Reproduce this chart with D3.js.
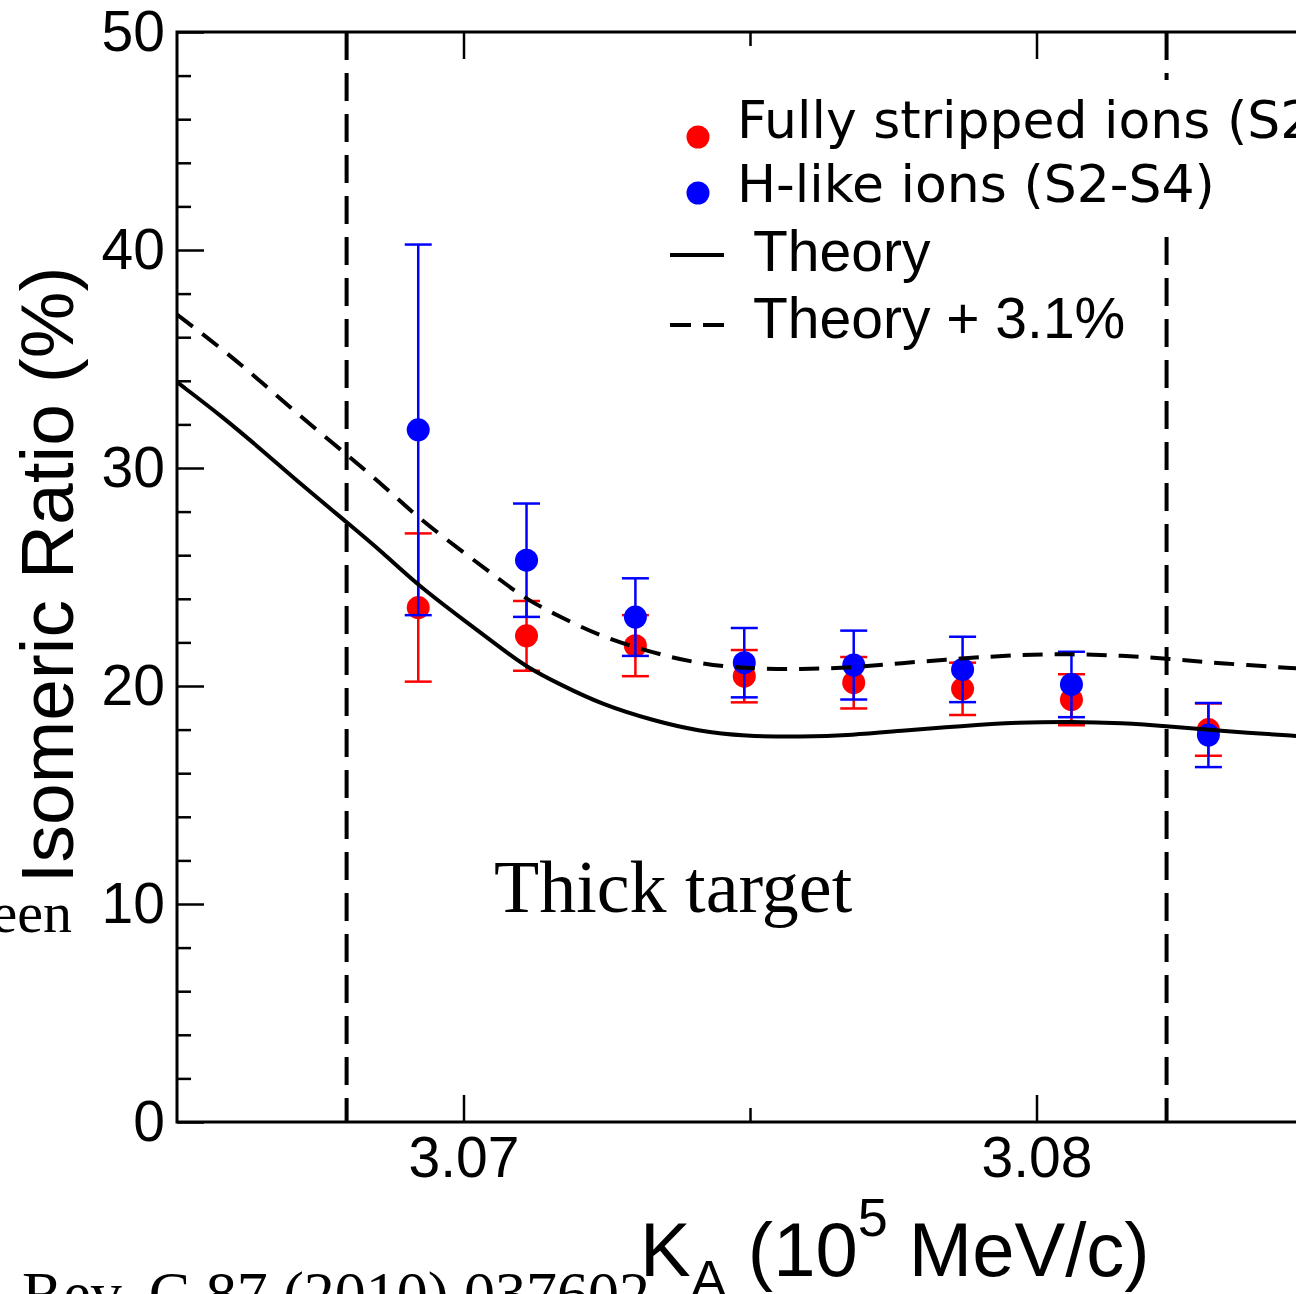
<!DOCTYPE html>
<html>
<head>
<meta charset="utf-8">
<script src="https://cdn.jsdelivr.net/npm/d3@7"></script>
<style>
  html, body { margin: 0; padding: 0; background: #fff; }
  svg { display: block; }
</style>
</head>
<body>
<svg id="chart" width="1296" height="1294"></svg>
<script>
// points: K_A (10^5 MeV/c) and isomeric ratio (%)
var pointX = [3.06921, 3.07110, 3.07300, 3.07490, 3.07681, 3.07871, 3.08061, 3.08300];
var fullyY   = [23.6, 22.3, 21.85, 20.45, 20.15, 19.87, 19.37, 18.0];
var fullyErr = [3.4, 1.6, 1.4, 1.2, 1.18, 1.2, 1.17, 1.2];
var hlikeY   = [31.75, 25.77, 23.16, 21.07, 20.96, 20.76, 20.07, 17.75];
var hlikeErr = [8.5, 2.6, 1.78, 1.59, 1.58, 1.5, 1.5, 1.47];

// theory curve
var theoryX = [3.0650, 3.0658, 3.0665, 3.0672, 3.0680, 3.0686, 3.0692, 3.0700, 3.0707, 3.0711,
               3.0717, 3.0724, 3.0733, 3.0741, 3.0749, 3.0759, 3.0768, 3.0776, 3.0787, 3.0797,
               3.0806, 3.0815, 3.0823, 3.0832, 3.0846, 3.0850];
var theoryY = [33.94, 32.34, 30.78, 29.17, 27.43, 26.1, 24.63, 23.03, 21.65, 20.87,
               20.05, 19.17, 18.42, 17.93, 17.7, 17.66, 17.75, 17.94, 18.17, 18.33,
               18.37, 18.3, 18.15, 17.94, 17.7, 17.62];
// theory + 3.1 %
var theoryPlusY = [37.04, 35.44, 33.88, 32.27, 30.53, 29.2, 27.73, 26.13, 24.75, 23.97,
                   23.15, 22.27, 21.52, 21.03, 20.8, 20.76, 20.85, 21.04, 21.27, 21.43,
                   21.47, 21.4, 21.25, 21.04, 20.8, 20.72];

var targetLines = [3.06796, 3.08227];

var xMajor = [3.07, 3.08];
var xMinor = [3.075];
var yMajor = [0, 10, 20, 30, 40, 50];
var yMinor = [2, 4, 6, 8, 12, 14, 16, 18, 22, 24, 26, 28, 32, 34, 36, 38, 42, 44, 46, 48];

var svg = d3.select("#chart");
var pl = 177, pt = 32, pb = 1122, pr = 1323;

var x = d3.scaleLinear().domain([3.065, 3.085]).range([pl, pr]);
var y = d3.scaleLinear().domain([0, 50]).range([pb, pt]);

var sans = "'Liberation Sans', Arial, Helvetica, sans-serif";
var serif = "'Liberation Serif', 'Times New Roman', serif";

svg.append("rect").attr("width", 1296).attr("height", 1294).attr("fill", "#fff");

// stray text from the surrounding slide
svg.append("text").attr("x", 72).attr("y", 932).attr("text-anchor", "end")
  .attr("font-family", serif).attr("font-size", 58).text("een");
svg.append("text").attr("x", 22).attr("y", 1314)
  .attr("font-family", serif).attr("font-size", 62).text("Rev. C 87 (2010) 037602");

svg.append("defs").append("clipPath").attr("id", "plotclip")
  .append("rect").attr("x", pl).attr("y", pt).attr("width", pr - pl).attr("height", pb - pt);

var plot = svg.append("g").attr("clip-path", "url(#plotclip)");

// axes
svg.append("g").attr("transform", "translate(0," + pb + ")")
  .call(d3.axisBottom(x).tickValues(xMajor).tickSize(-27).tickPadding(15).tickFormat(d3.format(".2f")));
svg.append("g").attr("transform", "translate(0," + pt + ")")
  .call(d3.axisTop(x).tickValues(xMajor).tickSize(-27).tickFormat(""));
svg.append("g").attr("transform", "translate(" + pl + ",0)")
  .call(d3.axisLeft(y).tickValues(yMajor).tickSize(-27).tickPadding(12));
svg.append("g").attr("transform", "translate(0," + pb + ")")
  .call(d3.axisBottom(x).tickValues(xMinor).tickSize(-14).tickFormat(""));
svg.append("g").attr("transform", "translate(0," + pt + ")")
  .call(d3.axisTop(x).tickValues(xMinor).tickSize(-14).tickFormat(""));
svg.append("g").attr("transform", "translate(" + pl + ",0)")
  .call(d3.axisLeft(y).tickValues(yMinor).tickSize(-14).tickFormat(""));

svg.selectAll(".domain").remove();
svg.selectAll(".tick line").attr("stroke", "#000").attr("stroke-width", 2.5);
svg.selectAll(".tick text").attr("font-family", sans).attr("font-size", 57).attr("fill", "#000");

// frame
svg.append("rect").attr("x", pl).attr("y", pt).attr("width", pr - pl).attr("height", pb - pt)
  .attr("fill", "none").attr("stroke", "#000").attr("stroke-width", 3);

// error bars + markers
function drawSeries(ys, errs, color) {
  var g = plot.append("g");
  pointX.forEach(function(px, i) {
    var cx = x(px), lo = y(ys[i] - errs[i]), hi = y(ys[i] + errs[i]);
    g.append("line").attr("x1", cx).attr("x2", cx).attr("y1", lo).attr("y2", hi)
      .attr("stroke", color).attr("stroke-width", 2.5);
    [lo, hi].forEach(function(cy) {
      g.append("line").attr("x1", cx - 13.5).attr("x2", cx + 13.5).attr("y1", cy).attr("y2", cy)
        .attr("stroke", color).attr("stroke-width", 2.5);
    });
  });
  g.selectAll("circle").data(ys).enter().append("circle")
    .attr("cx", function(d, i) { return x(pointX[i]); })
    .attr("cy", function(d) { return y(d); })
    .attr("r", 11.5)
    .attr("fill", color);
}
drawSeries(fullyY, fullyErr, "#f00");
drawSeries(hlikeY, hlikeErr, "#00f");

// theory curves
var line = d3.line()
  .x(function(d, i) { return x(theoryX[i]); })
  .y(function(d) { return y(d); })
  .curve(d3.curveBasis);

plot.append("path").attr("d", line(theoryY))
  .attr("fill", "none").attr("stroke", "#000").attr("stroke-width", 4);
plot.append("path").attr("d", line(theoryPlusY))
  .attr("fill", "none").attr("stroke", "#000").attr("stroke-width", 4)
  .attr("stroke-dasharray", "20,12");

// thick target boundaries
plot.selectAll(".vline").data(targetLines).enter().append("line")
  .attr("x1", function(d) { return x(d); }).attr("x2", function(d) { return x(d); })
  .attr("y1", pt).attr("y2", pb)
  .attr("stroke", "#000").attr("stroke-width", 4).attr("stroke-dasharray", "28,13");

svg.append("text").attr("x", 494).attr("y", 912)
  .attr("font-family", serif).attr("font-size", 74).text("Thick target");

// legend
svg.append("rect").attr("x", 668).attr("y", 80).attr("width", 640).attr("height", 146).attr("fill", "#fff");
var legendFont = "'Comic Sans MS', 'DejaVu Sans', sans-serif";
svg.append("circle").attr("cx", 698).attr("cy", 137).attr("r", 11.5).attr("fill", "#f00");
svg.append("text").attr("x", 737).attr("y", 138).attr("font-family", legendFont).attr("font-size", 52)
  .text("Fully stripped ions (S2-S4)");
svg.append("circle").attr("cx", 698).attr("cy", 193).attr("r", 11.5).attr("fill", "#00f");
svg.append("text").attr("x", 737).attr("y", 202).attr("font-family", legendFont).attr("font-size", 52)
  .text("H-like ions (S2-S4)");

svg.append("line").attr("x1", 670).attr("x2", 724).attr("y1", 255).attr("y2", 255)
  .attr("stroke", "#000").attr("stroke-width", 4);
svg.append("text").attr("x", 753).attr("y", 271).attr("font-family", sans).attr("font-size", 57).text("Theory");
svg.append("line").attr("x1", 670).attr("x2", 724).attr("y1", 325).attr("y2", 325)
  .attr("stroke", "#000").attr("stroke-width", 4).attr("stroke-dasharray", "21,12");
svg.append("text").attr("x", 753).attr("y", 338).attr("font-family", sans).attr("font-size", 57).text("Theory + 3.1%");

// axis titles
svg.append("text").attr("transform", "translate(73,575) rotate(-90)")
  .attr("text-anchor", "middle").attr("font-family", sans).attr("font-size", 75)
  .text("Isomeric Ratio (%)");

var xt = svg.append("text").attr("x", 640).attr("y", 1276).attr("font-family", sans).attr("font-size", 76);
xt.append("tspan").text("K");
xt.append("tspan").attr("dy", 22).attr("font-size", 54).text("A");
xt.append("tspan").attr("dy", -22).text(" (10");
xt.append("tspan").attr("dy", -40).attr("font-size", 54).text("5");
xt.append("tspan").attr("dy", 40).text(" MeV/c)");
</script>
</body>
</html>
